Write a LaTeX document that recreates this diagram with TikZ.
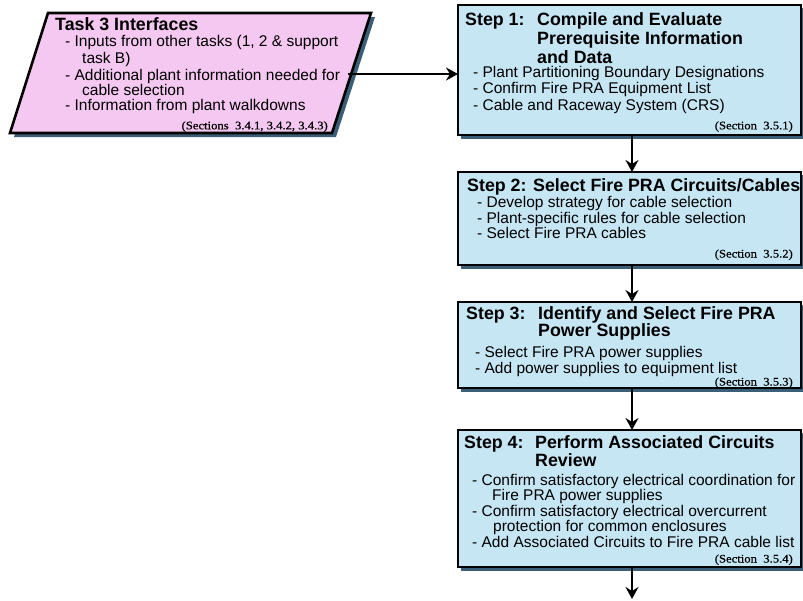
\documentclass[tikz,border=0pt]{standalone}
\usepackage{fontspec}
\setmainfont{Liberation Sans}
\newfontfamily\secfamily[FakeStretch=1.1,FakeBold=0.6]{Liberation Serif}
\usetikzlibrary{arrows.meta}
\definecolor{pinkfill}{RGB}{244,200,240}
\definecolor{bluefill}{RGB}{198,230,244}
\definecolor{shadowc}{RGB}{60,95,120}
\newcommand\hfnt{\fontsize{17.8}{19}\selectfont\bfseries}
\newcommand\bfnt{\fontsize{15.5}{16.5}\selectfont}
\newcommand\sfnt{\secfamily\fontsize{11.5}{12}\selectfont}
\tikzset{
  stepbox/.style={draw=black, line width=2.6pt, fill=bluefill, rectangle, inner sep=0pt, outer sep=0pt, anchor=north west},
  shad/.style={fill=shadowc, draw=none},
  hd/.style={font=\hfnt, anchor=base west, inner sep=0pt},
  bd/.style={font=\bfnt, anchor=base west, inner sep=0pt},
  sc/.style={font=\sfnt, anchor=base east, inner sep=0pt},
  arr/.style={line width=2.6pt, -{Stealth[length=12pt,width=13pt,inset=4pt]}}
}
\begin{document}
\begin{tikzpicture}[x=1pt,y=-1pt]
\useasboundingbox[fill=white] (0,0) rectangle (803,600);

% Task 3 parallelogram
\fill[shadowc] (52,17) -- (375,17) -- (336,137) -- (14,137) -- cycle;
\draw[line width=2.6pt, fill=pinkfill] (48,13) -- (371,13) -- (332,133) -- (10,133) -- cycle;
\coordinate (tout) at (348,74);

\node[hd] (th) at (55,30.7) {Task 3 Interfaces};
\node[bd] (ta1) at (65,46.7) {- Inputs from other tasks (1, 2 \& support};
\node[bd] (ta2) at (82,63.3) {task B)};
\node[bd] (ta3) at (65,80) {- Additional plant information needed for};
\node[bd] (ta4) at (82,95) {cable selection};
\node[bd] (ta5) at (65,110.7) {- Information from plant walkdowns};
\node[sc] (tsec) at (328,129.3) {(Sections~ 3.4.1, 3.4.2, 3.4.3)};

% shadows of step boxes
\fill[shad] (461,8) rectangle (806,139);
\fill[shad] (461,175) rectangle (806,269);
\fill[shad] (461,305) rectangle (806,392);
\fill[shad] (461,433) rectangle (806,571);

% Step boxes
\node[stepbox, minimum width=343pt, minimum height=130pt] (s1) at (458,5) {};
\node[stepbox, minimum width=343pt, minimum height=93pt] (s2) at (458,172) {};
\node[stepbox, minimum width=343pt, minimum height=86pt] (s3) at (458,302) {};
\node[stepbox, minimum width=343pt, minimum height=137pt] (s4) at (458,430) {};

% Step 1 text
\node[hd] (s1h) at (465,25) {Step 1:};
\node[hd] (s1h1) at (537,25) {Compile and Evaluate};
\node[hd] (s1h2) at (537,44) {Prerequisite Information};
\node[hd] (s1h3) at (537,63) {and Data};
\node[bd] (s1a) at (473,77.5) {- Plant Partitioning Boundary Designations};
\node[bd] (s1b) at (473,93.5) {- Confirm Fire PRA Equipment List};
\node[bd] (s1c) at (473,110) {- Cable and Raceway System (CRS)};
\node[sc] (s1s) at (793,129.3) {(Section~ 3.5.1)};

% Step 2 text
\node[hd] (s2h) at (467,191) {Step 2: Select Fire PRA Circuits/Cables};
\node[bd] (s2a) at (477,207) {- Develop strategy for cable selection};
\node[bd] (s2b) at (477,223) {- Plant-specific rules for cable selection};
\node[bd] (s2c) at (477,238.5) {- Select Fire PRA cables};
\node[sc] (s2s) at (793,257.5) {(Section~ 3.5.2)};

% Step 3 text
\node[hd] (s3h) at (466,319.5) {Step 3:};
\node[hd] (s3h1) at (538,319.5) {Identify and Select Fire PRA};
\node[hd] (s3h2) at (538,336) {Power Supplies};
\node[bd] (s3a) at (475,357) {- Select Fire PRA power supplies};
\node[bd] (s3b) at (475,373) {- Add power supplies to equipment list};
\node[sc] (s3s) at (793,385.5) {(Section~ 3.5.3)};

% Step 4 text
\node[hd] (s4h) at (464,448.5) {Step 4:};
\node[hd] (s4h1) at (535,448.5) {Perform Associated Circuits};
\node[hd] (s4h2) at (535,466.5) {Review};
\node[bd] (s4a) at (472,485) {- Confirm satisfactory electrical coordination for};
\node[bd] (s4b) at (492,500) {Fire PRA power supplies};
\node[bd] (s4c) at (472,516) {- Confirm satisfactory electrical overcurrent};
\node[bd] (s4d) at (493,531) {protection for common enclosures};
\node[bd] (s4e) at (472,547) {- Add Associated Circuits to Fire PRA cable list};
\node[sc] (s4s) at (793,562.5) {(Section~ 3.5.4)};

% connectors
\coordinate (ax) at (632,0);
\coordinate (bend) at (632,599);
\draw[arr, line width=2pt] (tout) -- (s1.west |- tout);
\draw[arr] (s1.south -| ax) -- (s2.north -| ax);
\draw[arr] (s2.south -| ax) -- (s3.north -| ax);
\draw[arr] (s3.south -| ax) -- (s4.north -| ax);
\draw[arr] (s4.south -| ax) -- (bend);
\end{tikzpicture}
\end{document}
